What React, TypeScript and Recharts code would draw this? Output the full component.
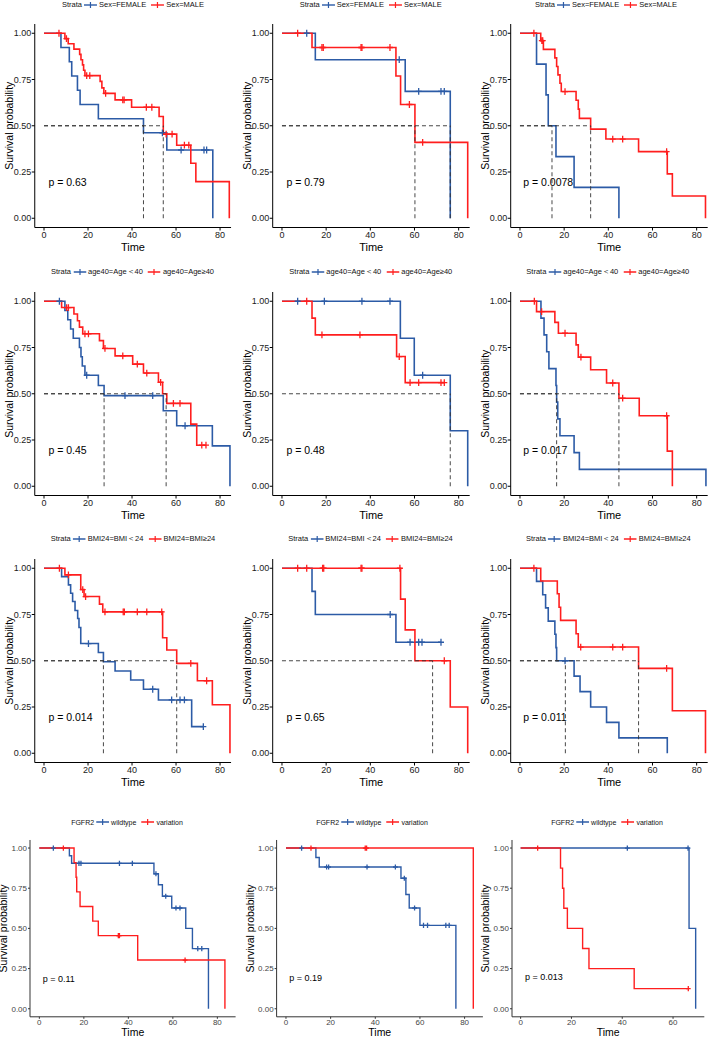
import React from "react";
import {
  ComposedChart,
  Line,
  Scatter,
  XAxis,
  YAxis,
  ReferenceLine,
  ReferenceDot,
} from "recharts";

type Pt = [number, number];

const BLUE = "#2C5BA6";
const RED = "#FF1E1E";
const FONT = '"Liberation Sans", Arial, Helvetica, sans-serif';

const Y_TICKS = [0, 0.25, 0.5, 0.75, 1];
const X_TICKS = [0, 20, 40, 60, 80];
const X_TICKS_SHORT = [0, 20, 40, 60];

// ---- row 1: Sex
const p1Female: Pt[] = [[0, 1], [7.7, 0.923], [11.5, 0.846], [12.6, 0.769], [15.2, 0.692], [16.4, 0.615], [24.7, 0.538], [45.2, 0.462], [55.8, 0.369], [76.7, 0]];
const p1FemaleCens = [53.8, 62.3, 72.7, 73.9];
const p1Male: Pt[] = [[0, 1], [9.5, 0.971], [11.0, 0.943], [13.6, 0.914], [16.2, 0.886], [16.8, 0.857], [17.5, 0.829], [18.0, 0.8], [18.6, 0.771], [25.5, 0.74], [26.3, 0.705], [27.2, 0.675], [32.3, 0.64], [39.8, 0.6], [52.3, 0.55], [54.2, 0.455], [60.3, 0.395], [66.7, 0.297], [69.0, 0.198], [84.2, 0]];
const p1MaleCens = [6.8, 10.2, 19.4, 20.8, 28.0, 35.8, 36.4, 46.5, 49.0, 55.5, 58.2, 63.8, 65.8];

const p2Female: Pt[] = [[0, 1], [15.1, 0.857], [55.8, 0.686], [76.2, 0]];
const p2FemaleCens = [11.2, 53.1, 61.9, 72.0, 73.5];
const p2Male: Pt[] = [[0, 1], [13.6, 0.923], [51.6, 0.769], [53.7, 0.615], [60.2, 0.41], [84.1, 0]];
const p2MaleCens = [7.1, 18.1, 18.7, 35.8, 36.2, 48.9, 57.7, 63.7];

const p3Female: Pt[] = [[0, 1], [7.5, 0.833], [11.8, 0.667], [12.8, 0.5], [16.3, 0.333], [24.5, 0.167], [44.8, 0]];
const p3FemaleCens: number[] = [];
const p3Male: Pt[] = [[0, 1], [9.4, 0.96], [10.6, 0.913], [15.8, 0.867], [16.6, 0.82], [17.2, 0.775], [18.1, 0.73], [18.7, 0.685], [25.4, 0.638], [26.4, 0.59], [26.9, 0.54], [32.0, 0.482], [38.9, 0.428], [53.7, 0.36], [66.7, 0.24], [69.0, 0.12], [84.0, 0]];
const p3MaleCens = [6.3, 9.9, 10.3, 20.4, 42.0, 46.5, 66.4];

// ---- row 2: age40
const p4Young: Pt[] = [[0, 1], [9.5, 0.95], [10.8, 0.9], [12.1, 0.85], [13.3, 0.8], [16.1, 0.75], [16.8, 0.7], [17.4, 0.65], [18.6, 0.6], [24.7, 0.545], [27.3, 0.49], [54.2, 0.408], [60.3, 0.327], [76.5, 0.218], [84.5, 0]];
const p4YoungCens = [7.0, 19.4, 36.8, 49.4, 64.1];
const p4Old: Pt[] = [[0, 1], [8.0, 0.966], [13.6, 0.931], [15.2, 0.895], [16.1, 0.86], [17.6, 0.824], [25.2, 0.787], [27.0, 0.745], [32.3, 0.705], [40.3, 0.66], [45.2, 0.612], [52.0, 0.562], [53.9, 0.5], [55.8, 0.448], [66.7, 0.336], [69.4, 0.222]];
const p4OldCens = [10.3, 11.1, 18.6, 20.2, 27.7, 35.8, 42.4, 46.7, 53.0, 58.8, 61.8, 71.7, 73.6];

const p5Young: Pt[] = [[0, 1], [53.6, 0.8], [59.9, 0.6], [76.2, 0.3], [84.1, 0]];
const p5YoungCens = [7.1, 19.2, 36.2, 48.9, 63.7];
const p5Old: Pt[] = [[0, 1], [13.6, 0.909], [15.1, 0.818], [51.9, 0.701], [55.8, 0.56]];
const p5OldCens = [11.2, 18.1, 35.3, 53.1, 58.0, 61.9, 72.0, 73.5];

const p6Young: Pt[] = [[0, 1], [9.5, 0.909], [10.9, 0.818], [12.1, 0.727], [13.1, 0.636], [16.3, 0.545], [16.6, 0.455], [17.1, 0.364], [18.1, 0.273], [24.5, 0.182], [26.9, 0.091], [84.2, 0]];
const p6YoungCens: number[] = [];
const p6Old: Pt[] = [[0, 1], [7.5, 0.944], [15.8, 0.886], [17.4, 0.827], [25.4, 0.764], [26.4, 0.698], [32.0, 0.63], [39.2, 0.558], [44.8, 0.476], [54.0, 0.381], [66.7, 0.19], [69.0, 0]];
const p6OldCens = [6.5, 9.8, 20.4, 27.6, 42.0, 46.5, 66.4];

// ---- row 3: BMI24
const p7Low: Pt[] = [[0, 1], [8.0, 0.955], [11.1, 0.91], [12.1, 0.865], [13.0, 0.82], [14.1, 0.772], [15.3, 0.728], [15.9, 0.68], [16.7, 0.593], [24.7, 0.545], [27.0, 0.495], [32.3, 0.445], [39.4, 0.396], [45.2, 0.346], [52.0, 0.288], [67.1, 0.144]];
const p7LowCens = [20.2, 49.4, 58.0, 61.8, 63.8, 72.4];
const p7High: Pt[] = [[0, 1], [9.5, 0.964], [16.7, 0.885], [18.2, 0.847], [25.2, 0.806], [26.7, 0.764], [53.9, 0.624], [55.8, 0.558], [60.3, 0.486], [69.7, 0.392], [76.5, 0.262], [84.5, 0]];
const p7HighCens = [7.0, 11.1, 17.6, 18.9, 27.7, 36.0, 36.5, 42.4, 46.7, 53.5, 66.7, 73.9];

const p8Low: Pt[] = [[0, 1], [13.6, 0.875], [15.1, 0.75], [51.6, 0.6]];
const p8LowCens = [49.0, 58.0, 61.9, 63.4, 72.0];
const p8High: Pt[] = [[0, 1], [53.7, 0.833], [55.8, 0.667], [60.2, 0.5], [76.2, 0.25], [84.1, 0]];
const p8HighCens = [7.1, 11.2, 18.4, 18.9, 35.8, 36.2, 53.4, 73.5];

const p9Low: Pt[] = [[0, 1], [7.5, 0.929], [10.3, 0.857], [11.6, 0.786], [12.8, 0.714], [15.8, 0.643], [16.3, 0.571], [16.6, 0.5], [24.5, 0.417], [27.2, 0.333], [32.0, 0.25], [39.2, 0.167], [44.8, 0.083], [66.7, 0]];
const p9LowCens = [20.4];
const p9High: Pt[] = [[0, 1], [9.4, 0.931], [16.9, 0.862], [17.7, 0.789], [18.4, 0.718], [25.4, 0.646], [26.4, 0.574], [53.7, 0.459], [69.0, 0.23], [84.0, 0]];
const p9HighCens = [6.3, 27.5, 42.0, 46.5, 66.4];

// ---- row 4: FGFR2
const p10Wild: Pt[] = [[0, 1], [13.5, 0.952], [14.5, 0.905], [51.5, 0.84], [53.5, 0.772], [55.3, 0.7], [59.5, 0.627], [65.8, 0.5], [68.8, 0.374], [76.0, 0]];
const p10WildCens = [6.3, 17.8, 18.7, 36.0, 41.8, 52.4, 56.8, 61.4, 63.2, 71.2, 73.0];
const p10Var: Pt[] = [[0, 1], [15.6, 0.909], [16.5, 0.818], [16.8, 0.727], [18.3, 0.636], [24.0, 0.545], [26.5, 0.455], [44.2, 0.303], [83.4, 0]];
const p10VarCens = [10.8, 35.5, 36.0, 65.5];

const p11Wild: Pt[] = [[0, 1], [13.4, 0.941], [14.9, 0.882], [51.5, 0.812], [53.7, 0.711], [55.2, 0.627], [60.0, 0.519], [76.1, 0]];
const p11WildCens = [7.0, 18.2, 19.1, 36.3, 49.0, 53.0, 57.6, 61.6, 63.4, 71.6, 73.1];
const p11Var: Pt[] = [[0, 1], [83.9, 0]];
const p11VarCens = [11.2, 35.5, 36.1];

const p12Wild: Pt[] = [[0, 1], [66.3, 0.5], [68.9, 0]];
const p12WildCens = [42.0, 65.9];
const p12Var: Pt[] = [[0, 1], [15.7, 0.875], [16.5, 0.75], [17.0, 0.625], [18.4, 0.5], [24.4, 0.375], [26.9, 0.25], [44.7, 0.125]];
const p12VarCens = [6.7, 66.0];

const sexNames = ["Sex=FEMALE", "Sex=MALE"];
const ageNames = ["age40=Age\uFF1C40", "age40=Age\u226540"];
const bmiNames = ["BMI24=BMI\uFF1C24", "BMI24=BMI\u226524"];
const fgfrNames = ["wildtype", "variation"];

const pValues = ["p = 0.63", "p = 0.79", "p = 0.0078", "p = 0.45", "p = 0.48", "p = 0.017", "p = 0.014", "p = 0.65", "p = 0.011", "p = 0.11", "p = 0.19", "p = 0.013"];

// median survival (hv lines)
const medians: (number | null)[][] = [
  [45.2, 54.2], [76.2, 60.2], [14.5, 32.0],
  [27.3, 55.5], [76.2, null], [16.6, 44.8],
  [27.0, 60.3], [null, 68.2], [20.55, 53.7],
  [null, null], [null, null], [null, null],
];

type Strata = { name: string; color: string; steps: Pt[]; cens: number[]; median: number | null };
type PanelCfg = {
  box: [number, number, number, number];
  plot: [number, number, number, number];
  xDomain: [number, number];
  xTicks: number[];
  strata: Strata[];
  p: string;
  pAt: [number, number];
  small: boolean;
  legendTitle: string;
  legendAt: [number, number];
};

function survAt(steps: Pt[], t: number) {
  let s = 1;
  for (const [tt, ss] of steps) if (tt <= t) s = ss;
  return s;
}

function linePoints(steps: Pt[], cens: number[]) {
  const pts = steps.map(([t, s]) => ({ t, s }));
  const last = steps[steps.length - 1];
  const end = Math.max(last[0], ...cens);
  if (end > last[0]) pts.push({ t: end, s: last[1] });
  return pts;
}

const crossShape = (color: string, h: number, w: number) => (props: any) => {
  const { cx, cy } = props;
  if (cx == null || cy == null) return <g />;
  return (
    <path
      d={`M${cx - w},${cy}H${cx + w}M${cx},${cy - h}V${cy + h}`}
      stroke={color}
      strokeWidth={1.3}
      fill="none"
    />
  );
};

function XTitle(props: any) {
  const { viewBox, dy, fs } = props;
  return (
    <text x={viewBox.x + viewBox.width / 2} y={viewBox.y + dy} textAnchor="middle" dominantBaseline="central" fontSize={fs} fontFamily={FONT} fill="#000">
      Time
    </text>
  );
}

function YTitle(props: any) {
  const { viewBox, fs } = props;
  const x = viewBox.x + viewBox.width - 26;
  const y = viewBox.y + viewBox.height / 2;
  return (
    <text x={x} y={y} transform={`rotate(-90, ${x}, ${y})`} textAnchor="middle" dominantBaseline="central" fontSize={fs} fontFamily={FONT} fill="#000">
      Survival probability
    </text>
  );
}

function PLabel(props: any) {
  const { viewBox, text, fs } = props;
  return (
    <text x={viewBox.x} y={viewBox.y} dominantBaseline="central" fontSize={fs} fontFamily={FONT} fill="#000">
      {text}
    </text>
  );
}

function LegendRow({ cfg }: { cfg: PanelCfg }) {
  const fs = cfg.small ? 7 : 7.5;
  return (
    <div
      style={{
        position: "absolute",
        left: cfg.legendAt[0],
        top: cfg.legendAt[1],
        transform: "translate(-50%, -50%)",
        display: "flex",
        alignItems: "center",
        whiteSpace: "nowrap",
        fontFamily: FONT,
        fontSize: fs,
        lineHeight: 1,
        color: "#111",
      }}
    >
      <span style={{ marginRight: 2 }}>{cfg.legendTitle}</span>
      {cfg.strata.map((st, i) => (
        <React.Fragment key={st.name}>
          <svg width={13} height={8} style={{ display: "block" }}>
            <line x1={0} y1={4} x2={13} y2={4} stroke={st.color} strokeWidth={1.4} />
            <line x1={6.5} y1={1} x2={6.5} y2={7} stroke={st.color} strokeWidth={1.2} />
          </svg>
          <span style={{ marginLeft: 2, marginRight: i === 0 ? 5 : 0 }}>{st.name}</span>
        </React.Fragment>
      ))}
    </div>
  );
}

function Panel({ cfg }: { cfg: PanelCfg }) {
  const [bl, bt, bw, bh] = cfg.box;
  const [px, py, pw, ph] = cfg.plot;
  const small = cfg.small;
  const tickStyle = { fontSize: small ? 8 : 9, fill: small ? "#444" : "#1a1a1a", fontFamily: FONT };
  const axisColor = small ? "#333" : "#000";
  const lw = small ? 1.4 : 1.6;
  return (
    <div style={{ position: "absolute", left: bl, top: bt, width: bw, height: bh }}>
      <ComposedChart
        width={bw}
        height={bh}
        margin={{ top: py - bt, right: bl + bw - px - pw, bottom: 0, left: 0 }}
      >
        <XAxis
          type="number"
          dataKey="t"
          domain={cfg.xDomain}
          ticks={cfg.xTicks}
          allowDataOverflow
          height={bt + bh - py - ph}
          stroke={axisColor}
          tick={tickStyle}
          tickSize={small ? 2 : 3}
          tickMargin={small ? 1 : 1.5}
          label={<XTitle dy={small ? 16 : 19} fs={small ? 10.5 : 11} />}
        />
        <YAxis
          type="number"
          dataKey="s"
          domain={[-0.05, 1.05]}
          ticks={Y_TICKS}
          allowDataOverflow
          width={px - bl}
          stroke={axisColor}
          tick={tickStyle}
          tickSize={small ? 2 : 3}
          tickMargin={small ? 1 : 0.5}
          tickFormatter={(v: number) => v.toFixed(2)}
          label={<YTitle fs={10.5} />}
        />
        {cfg.strata.map((st) => (
          <Line
            key={st.name}
            data={linePoints(st.steps, st.cens)}
            dataKey="s"
            type="stepAfter"
            stroke={st.color}
            strokeWidth={lw}
            dot={false}
            activeDot={false}
            isAnimationActive={false}
          />
        ))}
        {cfg.strata.map((st) => (
          <Scatter
            key={st.name + "-cens"}
            data={st.cens.map((t) => ({ t, s: survAt(st.steps, t) }))}
            shape={crossShape(st.color, small ? 2.6 : 3.4, small ? 2.4 : 3)}
            isAnimationActive={false}
          />
        ))}
        {cfg.strata.map((st) =>
          st.median == null ? null : (
            <ReferenceLine
              key={st.name + "-mh"}
              segment={[{ x: 0, y: 0.5 }, { x: st.median, y: 0.5 }]}
              stroke="#333"
              strokeWidth={0.9}
              strokeDasharray="4 3"
            />
          )
        )}
        {cfg.strata.map((st) =>
          st.median == null ? null : (
            <ReferenceLine
              key={st.name + "-mv"}
              segment={[{ x: st.median, y: 0 }, { x: st.median, y: 0.5 }]}
              stroke="#333"
              strokeWidth={0.9}
              strokeDasharray="4 3"
            />
          )
        )}
        <ReferenceDot
          x={cfg.pAt[0]}
          y={cfg.pAt[1]}
          r={0}
          fill="none"
          stroke="none"
          label={<PLabel text={cfg.p} fs={small ? 9 : 10.5} />}
        />
      </ComposedChart>
    </div>
  );
}

// layout: three columns, four rows
const COL_BOX: [number, number][] = [[0, 240], [236, 250], [470, 239]];
const BIG_PLOT_X: [number, number][] = [[34.76, 196.3], [272.7, 197], [510.7, 197]];
const BIG_PLOT_Y = [24.05, 291.5, 559.05];
const BIG_PLOT_H = 203.5;
const SMALL_PLOT_X: [number, number][] = [[30, 205.6], [276.6, 206.3], [512, 192.3]];
const SMALL_PLOT_Y = 839.7;
const SMALL_PLOT_H = 176.8;
const LEGEND_AT: [number, number][][] = [
  [[133, 5], [370.7, 5], [606, 5]],
  [[132.5, 271.7], [370.8, 271.7], [607.8, 271.7]],
  [[133, 539], [370.5, 539], [608.3, 539]],
  [[127, 822], [372, 822], [607, 822]],
];

const curves: [Pt[], number[], Pt[], number[]][] = [
  [p1Female, p1FemaleCens, p1Male, p1MaleCens],
  [p2Female, p2FemaleCens, p2Male, p2MaleCens],
  [p3Female, p3FemaleCens, p3Male, p3MaleCens],
  [p4Young, p4YoungCens, p4Old, p4OldCens],
  [p5Young, p5YoungCens, p5Old, p5OldCens],
  [p6Young, p6YoungCens, p6Old, p6OldCens],
  [p7Low, p7LowCens, p7High, p7HighCens],
  [p8Low, p8LowCens, p8High, p8HighCens],
  [p9Low, p9LowCens, p9High, p9HighCens],
  [p10Wild, p10WildCens, p10Var, p10VarCens],
  [p11Wild, p11WildCens, p11Var, p11VarCens],
  [p12Wild, p12WildCens, p12Var, p12VarCens],
];
const rowNames = [sexNames, ageNames, bmiNames, fgfrNames];
const pPos: Pt[] = [
  [2, 0.195], [2, 0.195], [1.5, 0.195],
  [2, 0.195], [2, 0.195], [1.5, 0.195],
  [2, 0.195], [2, 0.195], [1.5, 0.195],
  [1.5, 0.187], [1.5, 0.19], [1.7, 0.198],
];

function makePanels(): PanelCfg[] {
  const out: PanelCfg[] = [];
  for (let i = 0; i < 12; i++) {
    const r = Math.floor(i / 3);
    const c = i % 3;
    const small = r === 3;
    const [bl, bw] = COL_BOX[c];
    const [px, pw] = small ? SMALL_PLOT_X[c] : BIG_PLOT_X[c];
    const py = small ? SMALL_PLOT_Y : BIG_PLOT_Y[r];
    const ph = small ? SMALL_PLOT_H : BIG_PLOT_H;
    const bt = py - (small ? 10 : 12);
    const bh = small ? 1039 - bt : 245;
    const [a, aCens, b, bCens] = curves[i];
    out.push({
      box: [bl, bt, bw, bh],
      plot: [px, py, pw, ph],
      xDomain: small ? (c === 2 ? [-3.4, 72.3] : [-4.2, 88.2]) : [-4.2, 85],
      xTicks: small && c === 2 ? X_TICKS_SHORT : X_TICKS,
      strata: [
        { name: rowNames[r][0], color: BLUE, steps: a, cens: aCens, median: medians[i][0] },
        { name: rowNames[r][1], color: RED, steps: b, cens: bCens, median: medians[i][1] },
      ],
      p: pValues[i],
      pAt: pPos[i],
      small,
      legendTitle: small ? "FGFR2" : "Strata",
      legendAt: LEGEND_AT[r][c],
    });
  }
  return out;
}

const PANELS = makePanels();

export default function App() {
  return (
    <div
      style={{
        position: "absolute",
        left: 0,
        top: 0,
        width: 709,
        height: 1039,
        background: "#fff",
        overflow: "hidden",
        fontFamily: FONT,
      }}
    >
      {PANELS.map((cfg, i) => (
        <React.Fragment key={i}>
          <Panel cfg={cfg} />
          <LegendRow cfg={cfg} />
        </React.Fragment>
      ))}
    </div>
  );
}
